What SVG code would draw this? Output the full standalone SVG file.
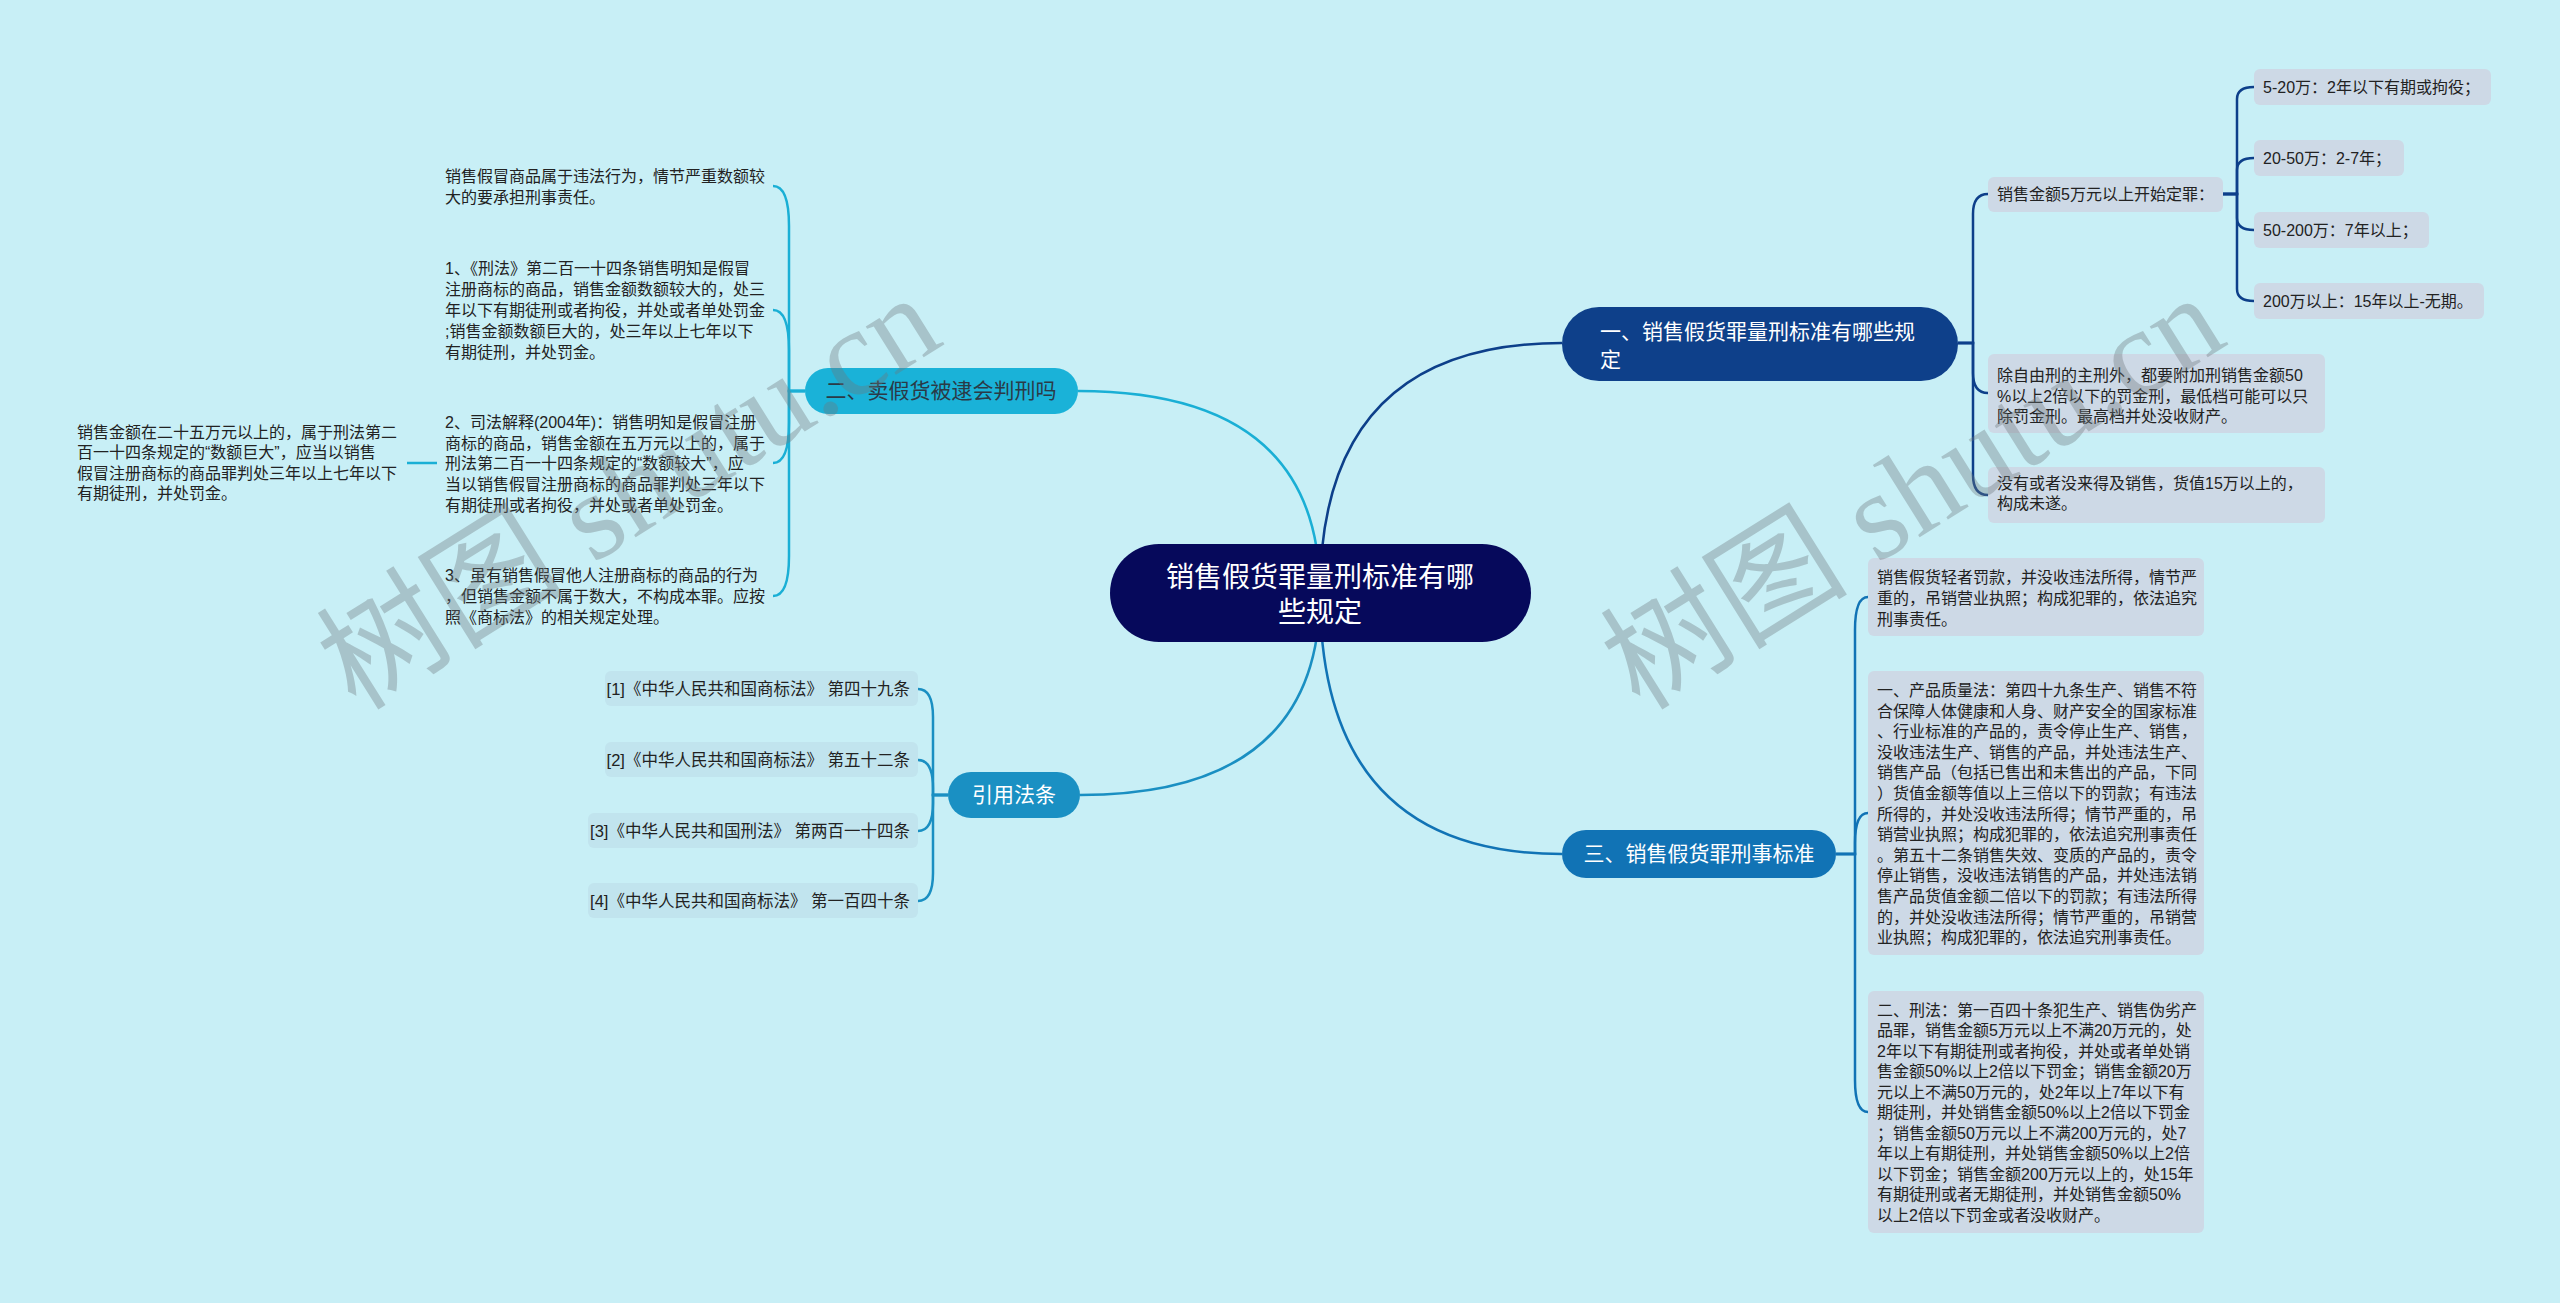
<svg xmlns="http://www.w3.org/2000/svg" width="2560" height="1303" viewBox="0 0 2560 1303">
<style>
.t{font-family:"Liberation Sans","Noto Sans CJK SC",sans-serif;font-size:16px;fill:#222}
.ct{font-family:"Liberation Sans","Noto Sans CJK SC",sans-serif;font-size:16.5px;fill:#222;text-anchor:end}
.nt{font-family:"Liberation Sans","Noto Sans CJK SC",sans-serif;font-size:21px;fill:#fff}
.box{fill:#CDD9E6}
.cbox{fill:#C1E4EE}
.l1{fill:none;stroke:#0D3F8A;stroke-width:2.5}
.l2{fill:none;stroke:#1AAFD5;stroke-width:2.5}
.l3{fill:none;stroke:#1A8FC2;stroke-width:2.5}
.l4{fill:none;stroke:#1173B5;stroke-width:2.5}
.wm{font-family:"Liberation Serif","Noto Sans CJK SC",serif;font-size:124px;fill:#6E787D;opacity:0.36}
</style>
<rect x="0" y="0" width="2560" height="1303" fill="#C8EFF6"/>

<g id="connectors">
  <path class="l1" d="M1320 593 Q1320 343 1562 343" stroke-width="3"/>
  <path class="l2" d="M1320 593 Q1320 391 1078 391" stroke-width="3"/>
  <path class="l3" d="M1320 593 Q1320 795 1080 795" stroke-width="3"/>
  <path class="l4" d="M1320 593 Q1320 854 1562 854" stroke-width="3"/>
  <path class="l1" d="M1958 343 H1973 V214 Q1973 194 1988 194"/>
  <path class="l1" d="M1958 343 H1973 V373 Q1973 393 1988 393"/>
  <path class="l1" d="M1958 343 H1973 V475 Q1973 495 1988 495"/>
  <path class="l1" d="M2223 194 H2237 V99 Q2237 87 2254 87"/>
  <path class="l1" d="M2223 194 H2237 V170 Q2237 158 2254 158"/>
  <path class="l1" d="M2223 194 H2237 V218 Q2237 230 2254 230"/>
  <path class="l1" d="M2223 194 H2237 V289 Q2237 301 2254 301"/>
  <path class="l2" d="M805 391 H789 V226 Q789 186 773 186"/>
  <path class="l2" d="M805 391 H789 V350 Q789 310 773 310"/>
  <path class="l2" d="M805 391 H789 V423 Q789 463 773 463"/>
  <path class="l2" d="M805 391 H789 V556 Q789 596 773 596"/>
  <path class="l2" d="M437 463 H407"/>
  <path class="l3" d="M948 795 H933 V717 Q933 689 918 689"/>
  <path class="l3" d="M948 795 H933 V788 Q933 760 918 760"/>
  <path class="l3" d="M948 795 H933 V803 Q933 831 918 831"/>
  <path class="l3" d="M948 795 H933 V873 Q933 901 918 901"/>
  <path class="l4" d="M1836 854 H1855 V630 Q1855 597 1868 597"/>
  <path class="l4" d="M1836 854 H1855 V843 Q1855 813 1868 813"/>
  <path class="l4" d="M1836 854 H1855 V1080 Q1855 1112 1868 1112"/>
</g>

<g id="center">
  <rect x="1110" y="544" width="421" height="98" rx="49" fill="#06095B"/>
  <text class="nt" text-anchor="middle" style="font-size:28px"><tspan x="1320" y="587">销售假货罪量刑标准有哪</tspan><tspan x="1320" y="622">些规定</tspan></text>
</g>

<g id="b1">
  <rect x="1562" y="307" width="396" height="74" rx="37" fill="#0E408A"/>
  <text class="nt"><tspan x="1600" y="339">一、销售假货罪量刑标准有哪些规</tspan><tspan x="1600" y="367">定</tspan></text>
</g>
<g id="b1-1">
  <rect class="box" x="1988" y="177" width="235" height="35" rx="6"/>
  <text class="t" x="1997" y="200">销售金额5万元以上开始定罪：</text>
</g>
<g id="b1-1-1">
  <rect class="box" x="2254" y="69" width="237" height="36" rx="6"/>
  <text class="t" x="2263" y="93">5-20万：2年以下有期或拘役；</text>
</g>
<g id="b1-1-2">
  <rect class="box" x="2254" y="140" width="150" height="36" rx="6"/>
  <text class="t" x="2263" y="164">20-50万：2-7年；</text>
</g>
<g id="b1-1-3">
  <rect class="box" x="2254" y="212" width="175" height="36" rx="6"/>
  <text class="t" x="2263" y="236">50-200万：7年以上；</text>
</g>
<g id="b1-1-4">
  <rect class="box" x="2254" y="283" width="230" height="36" rx="6"/>
  <text class="t" x="2263" y="307">200万以上：15年以上-无期。</text>
</g>
<g id="b1-2">
  <rect class="box" x="1988" y="354" width="337" height="79" rx="6"/>
  <text class="t"><tspan x="1997" y="381">除自由刑的主刑外，都要附加刑销售金额50</tspan><tspan x="1997" y="402">%以上2倍以下的罚金刑，最低档可能可以只</tspan><tspan x="1997" y="422">除罚金刑。最高档并处没收财产。</tspan></text>
</g>
<g id="b1-3">
  <rect class="box" x="1988" y="467" width="337" height="56" rx="6"/>
  <text class="t"><tspan x="1997" y="489">没有或者没来得及销售，货值15万以上的，</tspan><tspan x="1997" y="509">构成未遂。</tspan></text>
</g>

<g id="b2">
  <rect x="805" y="368" width="273" height="46" rx="23" fill="#1AB2D8"/>
  <text class="nt" x="941" y="398" text-anchor="middle" style="fill:#2A3A47">二、卖假货被逮会判刑吗</text>
</g>
<g id="b2-1">
  <text class="t"><tspan x="445" y="182">销售假冒商品属于违法行为，情节严重数额较</tspan><tspan x="445" y="203">大的要承担刑事责任。</tspan></text>
</g>
<g id="b2-2">
  <text class="t"><tspan x="445" y="274">1、《刑法》第二百一十四条销售明知是假冒</tspan><tspan x="445" y="295">注册商标的商品，销售金额数额较大的，处三</tspan><tspan x="445" y="316">年以下有期徒刑或者拘役，并处或者单处罚金</tspan><tspan x="445" y="337">;销售金额数额巨大的，处三年以上七年以下</tspan><tspan x="445" y="358">有期徒刑，并处罚金。</tspan></text>
</g>
<g id="b2-3">
  <text class="t"><tspan x="445" y="428">2、司法解释(2004年)：销售明知是假冒注册</tspan><tspan x="445" y="449">商标的商品，销售金额在五万元以上的，属于</tspan><tspan x="445" y="469">刑法第二百一十四条规定的“数额较大”，应</tspan><tspan x="445" y="490">当以销售假冒注册商标的商品罪判处三年以下</tspan><tspan x="445" y="511">有期徒刑或者拘役，并处或者单处罚金。</tspan></text>
</g>
<g id="b2-3-1">
  <text class="t"><tspan x="77" y="438">销售金额在二十五万元以上的，属于刑法第二</tspan><tspan x="77" y="458">百一十四条规定的“数额巨大”，应当以销售</tspan><tspan x="77" y="479">假冒注册商标的商品罪判处三年以上七年以下</tspan><tspan x="77" y="499">有期徒刑，并处罚金。</tspan></text>
</g>
<g id="b2-4">
  <text class="t"><tspan x="445" y="581">3、虽有销售假冒他人注册商标的商品的行为</tspan><tspan x="445" y="602">，但销售金额不属于数大，不构成本罪。应按</tspan><tspan x="445" y="623">照《商标法》的相关规定处理。</tspan></text>
</g>

<g id="b3">
  <rect x="948" y="772" width="132" height="46" rx="23" fill="#1A90C3"/>
  <text class="nt" x="1014" y="802" text-anchor="middle">引用法条</text>
</g>
<g id="b3-1">
  <rect class="cbox" x="605" y="671" width="313" height="35" rx="6"/>
  <text class="ct" x="910" y="695">[1]《中华人民共和国商标法》 第四十九条</text>
</g>
<g id="b3-2">
  <rect class="cbox" x="605" y="742" width="313" height="35" rx="6"/>
  <text class="ct" x="910" y="766">[2]《中华人民共和国商标法》 第五十二条</text>
</g>
<g id="b3-3">
  <rect class="cbox" x="588" y="813" width="330" height="35" rx="6"/>
  <text class="ct" x="910" y="837">[3]《中华人民共和国刑法》 第两百一十四条</text>
</g>
<g id="b3-4">
  <rect class="cbox" x="588" y="883" width="330" height="35" rx="6"/>
  <text class="ct" x="910" y="907">[4]《中华人民共和国商标法》 第一百四十条</text>
</g>

<g id="b4">
  <rect x="1562" y="830" width="274" height="48" rx="24" fill="#1173B5"/>
  <text class="nt" x="1699" y="861" text-anchor="middle">三、销售假货罪刑事标准</text>
</g>
<g id="b4-1">
  <rect class="box" x="1868" y="558" width="336" height="78" rx="6"/>
  <text class="t"><tspan x="1877" y="583">销售假货轻者罚款，并没收违法所得，情节严</tspan><tspan x="1877" y="604">重的，吊销营业执照；构成犯罪的，依法追究</tspan><tspan x="1877" y="625">刑事责任。</tspan></text>
</g>
<g id="b4-2">
  <rect class="box" x="1868" y="671" width="336" height="284" rx="6"/>
  <text class="t"><tspan x="1877" y="696">一、产品质量法：第四十九条生产、销售不符</tspan><tspan x="1877" y="716.6">合保障人体健康和人身、财产安全的国家标准</tspan><tspan x="1877" y="737.2">、行业标准的产品的，责令停止生产、销售，</tspan><tspan x="1877" y="757.8">没收违法生产、销售的产品，并处违法生产、</tspan><tspan x="1877" y="778.4">销售产品（包括已售出和未售出的产品，下同</tspan><tspan x="1877" y="799">）货值金额等值以上三倍以下的罚款；有违法</tspan><tspan x="1877" y="819.6">所得的，并处没收违法所得；情节严重的，吊</tspan><tspan x="1877" y="840.2">销营业执照；构成犯罪的，依法追究刑事责任</tspan><tspan x="1877" y="860.8">。第五十二条销售失效、变质的产品的，责令</tspan><tspan x="1877" y="881.4">停止销售，没收违法销售的产品，并处违法销</tspan><tspan x="1877" y="902">售产品货值金额二倍以下的罚款；有违法所得</tspan><tspan x="1877" y="922.6">的，并处没收违法所得；情节严重的，吊销营</tspan><tspan x="1877" y="943.2">业执照；构成犯罪的，依法追究刑事责任。</tspan></text>
</g>
<g id="b4-3">
  <rect class="box" x="1868" y="991" width="336" height="242" rx="6"/>
  <text class="t"><tspan x="1877" y="1015.5">二、刑法：第一百四十条犯生产、销售伪劣产</tspan><tspan x="1877" y="1036">品罪，销售金额5万元以上不满20万元的，处</tspan><tspan x="1877" y="1056.5">2年以下有期徒刑或者拘役，并处或者单处销</tspan><tspan x="1877" y="1077">售金额50%以上2倍以下罚金；销售金额20万</tspan><tspan x="1877" y="1097.5">元以上不满50万元的，处2年以上7年以下有</tspan><tspan x="1877" y="1118">期徒刑，并处销售金额50%以上2倍以下罚金</tspan><tspan x="1877" y="1138.5">；销售金额50万元以上不满200万元的，处7</tspan><tspan x="1877" y="1159">年以上有期徒刑，并处销售金额50%以上2倍</tspan><tspan x="1877" y="1179.5">以下罚金；销售金额200万元以上的，处15年</tspan><tspan x="1877" y="1200">有期徒刑或者无期徒刑，并处销售金额50%</tspan><tspan x="1877" y="1220.5">以上2倍以下罚金或者没收财产。</tspan></text>
</g>

<g id="watermark">
  <text class="wm" transform="translate(356 712) rotate(-32)">树图 shutu.cn</text>
  <text class="wm" transform="translate(1640 712) rotate(-32)">树图 shutu.cn</text>
</g>
</svg>
